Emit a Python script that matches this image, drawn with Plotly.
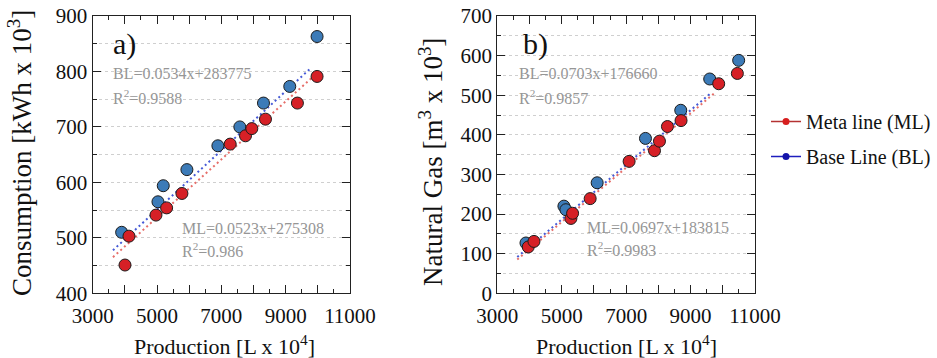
import numpy as np
import plotly.graph_objects as go

# ---------------- data ----------------
# panel a) electricity consumption [kWh x 10^3] vs production [L x 10^4]
a_bl_x = [3900, 5029, 5194, 5929, 6892, 7575, 8310, 9127, 9976]
a_bl_y = [510, 565, 594, 623, 666, 700, 743, 773, 863]
a_ml_x = [4004, 4128, 4967, 5298, 5774, 7275, 7751, 7947, 8372, 9365, 9976]
a_ml_y = [451, 503, 541, 554, 580, 669, 684, 697, 714, 743, 791]

# panel b) natural gas [m^3 x 10^3] vs production [L x 10^4]
b_bl_x = [3890, 5068, 5130, 6100, 7600, 8695, 9594, 10493]
b_bl_y = [127, 220, 211, 279, 391, 462, 541, 588]
b_ml_x = [3961, 4138, 5285, 5337, 5883, 7092, 7880, 8034, 8282, 8704, 9873, 10452]
b_ml_y = [117, 131, 189, 202, 239, 333, 360, 384, 421, 436, 529, 555]

# trend lines: (slope, intercept) and x-range of the drawn dotted line
a_fit_bl = (0.0534, 283.775)
a_fit_ml = (0.0523, 275.308)
a_rng_bl = [3630, 9800]
a_rng_ml = [3630, 9950]
b_fit_bl = (0.0689, -158.0)
b_fit_ml = (0.0686, -163.0)
b_rng_bl = [3620, 9650]
b_rng_ml = [3620, 9760]

# equation labels
a_eq_bl = ["BL=0.0534x+283775", "R<sup>2</sup>=0.9588"]
a_eq_ml = ["ML=0.0523x+275308", "R<sup>2</sup>=0.986"]
b_eq_bl = ["BL=0.0703x+176660", "R<sup>2</sup>=0.9857"]
b_eq_ml = ["ML=0.0697x+183815", "R<sup>2</sup>=0.9983"]

x_ticks = [3000, 4000, 5000, 6000, 7000, 8000, 9000, 10000, 11000]
x_labels = ["3000", "", "5000", "", "7000", "", "9000", "", "11000"]

# ---------------- styling ----------------
FONT = "Liberation Serif"
BLUE = "rgb(60,123,184)"
RED = "rgb(214,32,38)"
BLUE_TREND = "rgb(70,90,215)"
RED_TREND = "rgb(230,110,105)"
EQ_GRAY = "rgb(150,150,150)"
DOTS = "2px,3px"

W, H = 937, 358


def px(x):
    return x / W


def py(y):
    return 1 - y / H


fig = go.Figure()


def trend(fit, rng):
    xs = np.array(rng, dtype=float)
    return xs, fit[0] * xs + fit[1]


def add_panel(xa, ya, bl_x, bl_y, ml_x, ml_y, fit_bl, rng_bl, fit_ml, rng_ml):
    tx, ty = trend(fit_bl, rng_bl)
    fig.add_trace(go.Scatter(x=tx, y=ty, mode="lines", xaxis=xa, yaxis=ya,
                             line=dict(color=BLUE_TREND, width=2, dash=DOTS),
                             showlegend=False, hoverinfo="skip"))
    tx, ty = trend(fit_ml, rng_ml)
    fig.add_trace(go.Scatter(x=tx, y=ty, mode="lines", xaxis=xa, yaxis=ya,
                             line=dict(color=RED_TREND, width=2, dash=DOTS),
                             showlegend=False, hoverinfo="skip"))
    fig.add_trace(go.Scatter(x=bl_x, y=bl_y, mode="markers", xaxis=xa, yaxis=ya,
                             marker=dict(size=12, color=BLUE,
                                         line=dict(color="#1c1c1c", width=1)),
                             showlegend=False))
    fig.add_trace(go.Scatter(x=ml_x, y=ml_y, mode="markers", xaxis=xa, yaxis=ya,
                             marker=dict(size=12, color=RED,
                                         line=dict(color="#1c1c1c", width=1)),
                             showlegend=False))


add_panel("x", "y", a_bl_x, a_bl_y, a_ml_x, a_ml_y, a_fit_bl, a_rng_bl, a_fit_ml, a_rng_ml)
add_panel("x2", "y2", b_bl_x, b_bl_y, b_ml_x, b_ml_y, b_fit_bl, b_rng_bl, b_fit_ml, b_rng_ml)

# legend entries
fig.add_trace(go.Scatter(x=[None], y=[None], mode="lines+markers", name="Meta line (ML)",
                         line=dict(color="rgb(180,50,50)", width=1.5),
                         marker=dict(color="rgb(215,30,30)", size=7),
                         legendgroup="ml"))
fig.add_trace(go.Scatter(x=[None], y=[None], mode="lines+markers", name="Base Line (BL)",
                         line=dict(color="rgb(30,30,190)", width=1.5),
                         marker=dict(color="rgb(20,20,170)", size=7),
                         legendgroup="bl"))

tickfont = dict(family=FONT, size=21, color="#111")


def xaxis(domain, anchor):
    return dict(domain=domain, anchor=anchor, range=[3000, 11000],
                tickmode="array", tickvals=x_ticks, ticktext=x_labels,
                ticks="inside", ticklen=8, tickwidth=1.2, tickcolor="#222",
                minor=dict(tick0=3000, dtick=500, ticks="inside", ticklen=4,
                           tickwidth=1, tickcolor="#222"),
                showline=True, linecolor="#222", linewidth=1.3, mirror="ticks",
                showgrid=False, zeroline=False, tickfont=tickfont, automargin=False,
                ticklabelstandoff=3)


def yaxis(domain, anchor, rng):
    return dict(domain=domain, anchor=anchor, range=rng, dtick=100,
                ticks="inside", ticklen=8, tickwidth=1.2, tickcolor="#222",
                minor=dict(dtick=50, ticks="inside", ticklen=4, tickwidth=1,
                           tickcolor="#222", showgrid=True, gridcolor="#cfcfcf",
                           griddash="dot", gridwidth=1),
                showline=True, linecolor="#222", linewidth=1.3, mirror="ticks",
                showgrid=True, gridcolor="#cfcfcf", griddash="dot", gridwidth=1,
                zeroline=False, tickfont=tickfont, automargin=False)


ydom = [py(293.3), py(16)]
fig.update_layout(
    width=W, height=H,
    margin=dict(l=0, r=0, t=0, b=0, autoexpand=False),
    paper_bgcolor="white", plot_bgcolor="white",
    xaxis=xaxis([px(92.7), px(350)], "y"),
    yaxis=yaxis(ydom, "x", [400, 900]),
    xaxis2=xaxis([px(497.3), px(755)], "y2"),
    yaxis2=yaxis(ydom, "x2", [0, 700]),
    showlegend=True,
    legend=dict(x=px(766), y=py(102), xanchor="left", yanchor="top",
                font=dict(family=FONT, size=20, color="#111"),
                bgcolor="rgba(0,0,0,0)", tracegroupgap=6, itemwidth=30),
)

ann = []


def txt(x, y, s, size, color="#111", angle=0, xanchor="center"):
    ann.append(dict(x=px(x), y=py(y), xref="paper", yref="paper", text=s,
                    showarrow=False, xanchor=xanchor, yanchor="middle",
                    textangle=angle, font=dict(family=FONT, size=size, color=color)))


# axis titles
txt(20, 153, "Consumption [kWh x 10<sup>3</sup>]", 27, angle=-90)
txt(431, 162, "Natural Gas [m<sup>3</sup> x 10<sup>3</sup>]", 27, angle=-90)
txt(224, 345, "Production [L x 10<sup>4</sup>]", 22)
txt(626, 345, "Production [L x 10<sup>4</sup>]", 22)

# panel labels
txt(125, 44, "a)", 30)
txt(535, 44, "b)", 30)

# equations
txt(111, 73, a_eq_bl[0], 16, EQ_GRAY, xanchor="left")
txt(111, 97, a_eq_bl[1], 16, EQ_GRAY, xanchor="left")
txt(180, 228, a_eq_ml[0], 16, EQ_GRAY, xanchor="left")
txt(180, 250, a_eq_ml[1], 16, EQ_GRAY, xanchor="left")
txt(517, 73, b_eq_bl[0], 16, EQ_GRAY, xanchor="left")
txt(517, 97, b_eq_bl[1], 16, EQ_GRAY, xanchor="left")
txt(585, 227, b_eq_ml[0], 16, EQ_GRAY, xanchor="left")
txt(585, 249, b_eq_ml[1], 16, EQ_GRAY, xanchor="left")

fig.update_layout(annotations=ann)

# the page's default 8px body margin would shift the fixed-size figure
fig.write_html("out.html",
               config={"displayModeBar": False},
               post_script="document.body.style.margin='0';")
